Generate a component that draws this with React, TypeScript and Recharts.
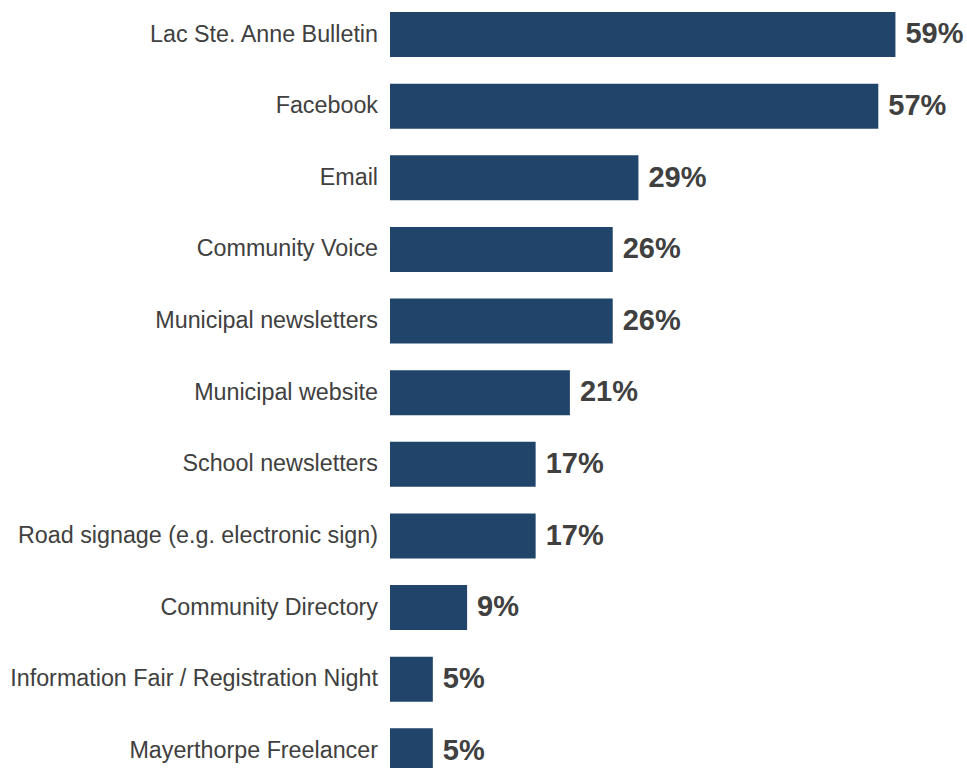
import React from "react";
import { Bar, BarChart, XAxis, YAxis, LabelList } from "recharts";

// survey: where respondents get their information
const channels = [
  "Lac Ste. Anne Bulletin",
  "Facebook",
  "Email",
  "Community Voice",
  "Municipal newsletters",
  "Municipal website",
  "School newsletters",
  "Road signage (e.g. electronic sign)",
  "Community Directory",
  "Information Fair / Registration Night",
  "Mayerthorpe Freelancer",
];
const shares = [59, 57, 29, 26, 26, 21, 17, 17, 9, 5, 5];

const data = channels.map((name, i) => ({ name, value: shares[i] }));

export default function App() {
  return (
    <div
      style={{
        position: "absolute",
        left: 0,
        top: 0,
        width: 967,
        height: 768,
        overflow: "hidden",
        background: "#fff",
        fontFamily: "'Liberation Sans', Arial, sans-serif",
      }}
    >
      <div style={{ position: "absolute", left: 0, top: -1 }}>
        <BarChart
          width={967}
          height={788}
          data={data}
          layout="vertical"
          margin={{ top: 0, right: 63, left: 0, bottom: 0 }}
        >
          <XAxis type="number" domain={[0, 60]} hide />
          <YAxis
            type="category"
            dataKey="name"
            width={390}
            axisLine={false}
            tickLine={false}
            tickSize={0}
            tickMargin={12}
            interval={0}
            tick={{ fill: "#404040", fontSize: 23.3, dy: -1.5 }}
          />
          <Bar dataKey="value" fill="#21456A" barSize={45} isAnimationActive={false}>
            <LabelList
              dataKey="value"
              position="right"
              offset={10}
              dy={-1.5}
              formatter={(v: number) => `${v}%`}
              style={{ fill: "#404040", fontSize: 29, fontWeight: "bold" }}
            />
          </Bar>
        </BarChart>
      </div>
    </div>
  );
}
